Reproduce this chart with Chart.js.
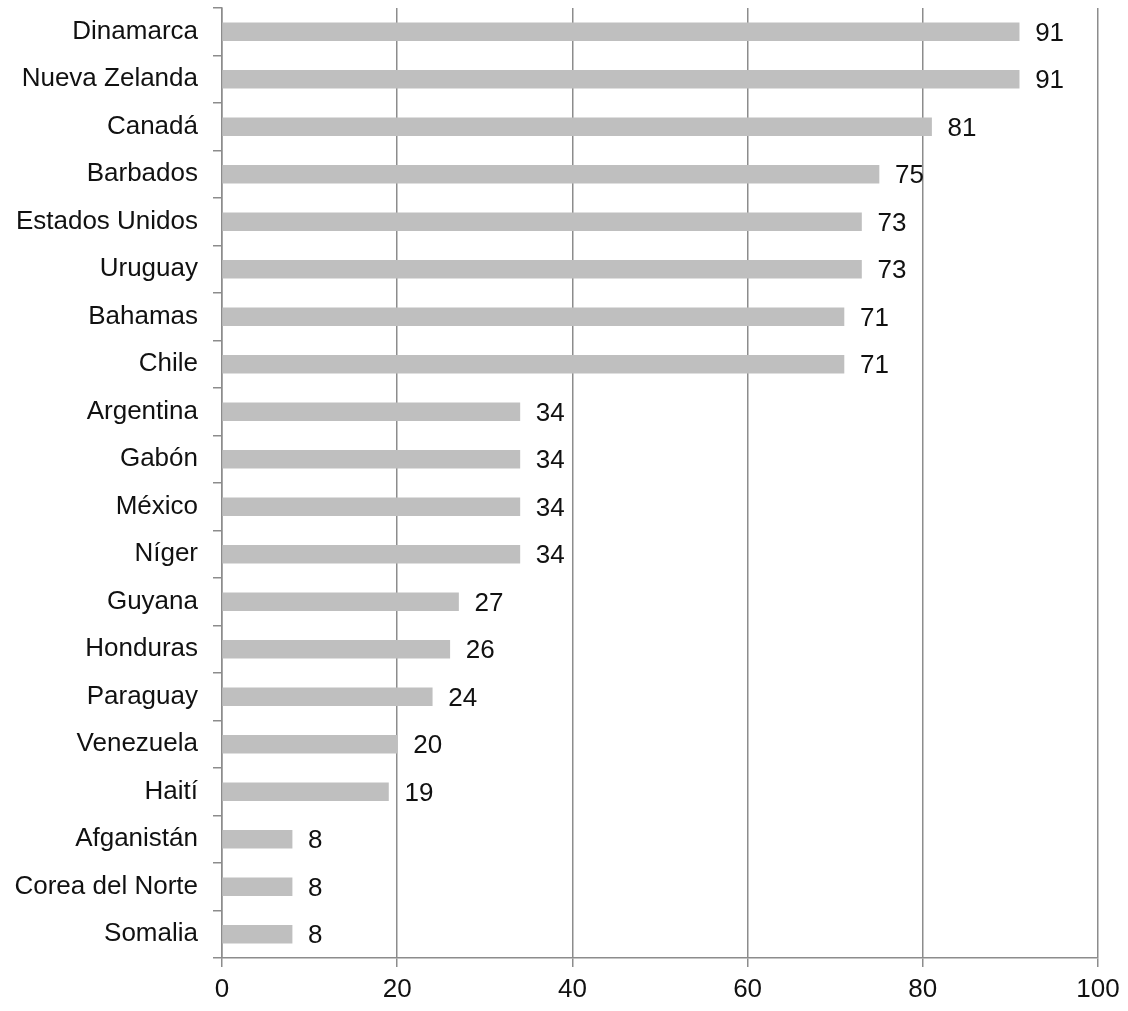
<!DOCTYPE html>
<html lang="es">
<head>
  <meta charset="UTF-8" />
  <title>Países</title>
  <script src="https://cdn.jsdelivr.net/npm/chart.js"></script>
  <style>
    html, body { margin: 0; padding: 0; background: #fff; }
    #wrap { width: 1128px; height: 1011px; position: relative; }
  </style>
</head>
<body>
  <div id="wrap"><canvas id="chart"></canvas></div>

  <script>
    const countries = ['Dinamarca', 'Nueva Zelanda', 'Canadá', 'Barbados', 'Estados Unidos', 'Uruguay',
      'Bahamas', 'Chile', 'Argentina', 'Gabón', 'México', 'Níger', 'Guyana', 'Honduras',
      'Paraguay', 'Venezuela', 'Haití', 'Afganistán', 'Corea del Norte', 'Somalia'];
    const scores = [91, 91, 81, 75, 73, 73, 71, 71, 34, 34, 34, 34, 27, 26, 24, 20, 19, 8, 8, 8];
    const xTicks = [0, 20, 40, 60, 80, 100];

    const FONT = { family: "'Liberation Sans', Arial, sans-serif", size: 26 };
    const GRID = '#8c8c8c';

    // value labels to the right of each bar
    const valueLabels = {
      id: 'valueLabels',
      afterDatasetsDraw(chart) {
        const ctx = chart.ctx;
        const meta = chart.getDatasetMeta(0);
        ctx.save();
        ctx.font = FONT.size + 'px ' + FONT.family;
        ctx.fillStyle = '#111';
        ctx.textAlign = 'left';
        ctx.textBaseline = 'middle';
        meta.data.forEach((bar, i) => {
          ctx.fillText(scores[i], bar.x + 16, bar.y + 2);
        });
        ctx.restore();
      }
    };

    new Chart(document.getElementById('chart'), {
      type: 'bar',
      data: {
        labels: countries,
        datasets: [{
          data: scores,
          backgroundColor: '#bfbfbf',
          borderWidth: 0,
          barThickness: 18
        }]
      },
      options: {
        indexAxis: 'y',
        responsive: true,
        maintainAspectRatio: false,
        devicePixelRatio: 1,
        animation: false,
        layout: { padding: { top: 8, right: 30, left: 0, bottom: 0 } },
        plugins: {
          legend: { display: false },
          tooltip: { enabled: false }
        },
        scales: {
          x: {
            min: 0,
            max: 100,
            afterBuildTicks: s => { s.ticks = xTicks.map(v => ({ value: v })); },
            afterFit: s => { s.height = 53; },
            grid: { color: GRID, lineWidth: 1.5, tickLength: 9 },
            border: { color: GRID, width: 1.5 },
            ticks: { color: '#111', font: FONT, padding: 7, maxRotation: 0 }
          },
          y: {
            afterFit: s => { s.width = 222; s.paddingTop = 0; s.paddingBottom = 0; },
            grid: { drawOnChartArea: false, color: GRID, lineWidth: 1.5, tickLength: 9 },
            border: { color: GRID, width: 1.5 },
            ticks: { color: '#111', font: FONT, padding: 15, autoSkip: false }
          }
        }
      },
      plugins: [valueLabels]
    });
  </script>
</body>
</html>
